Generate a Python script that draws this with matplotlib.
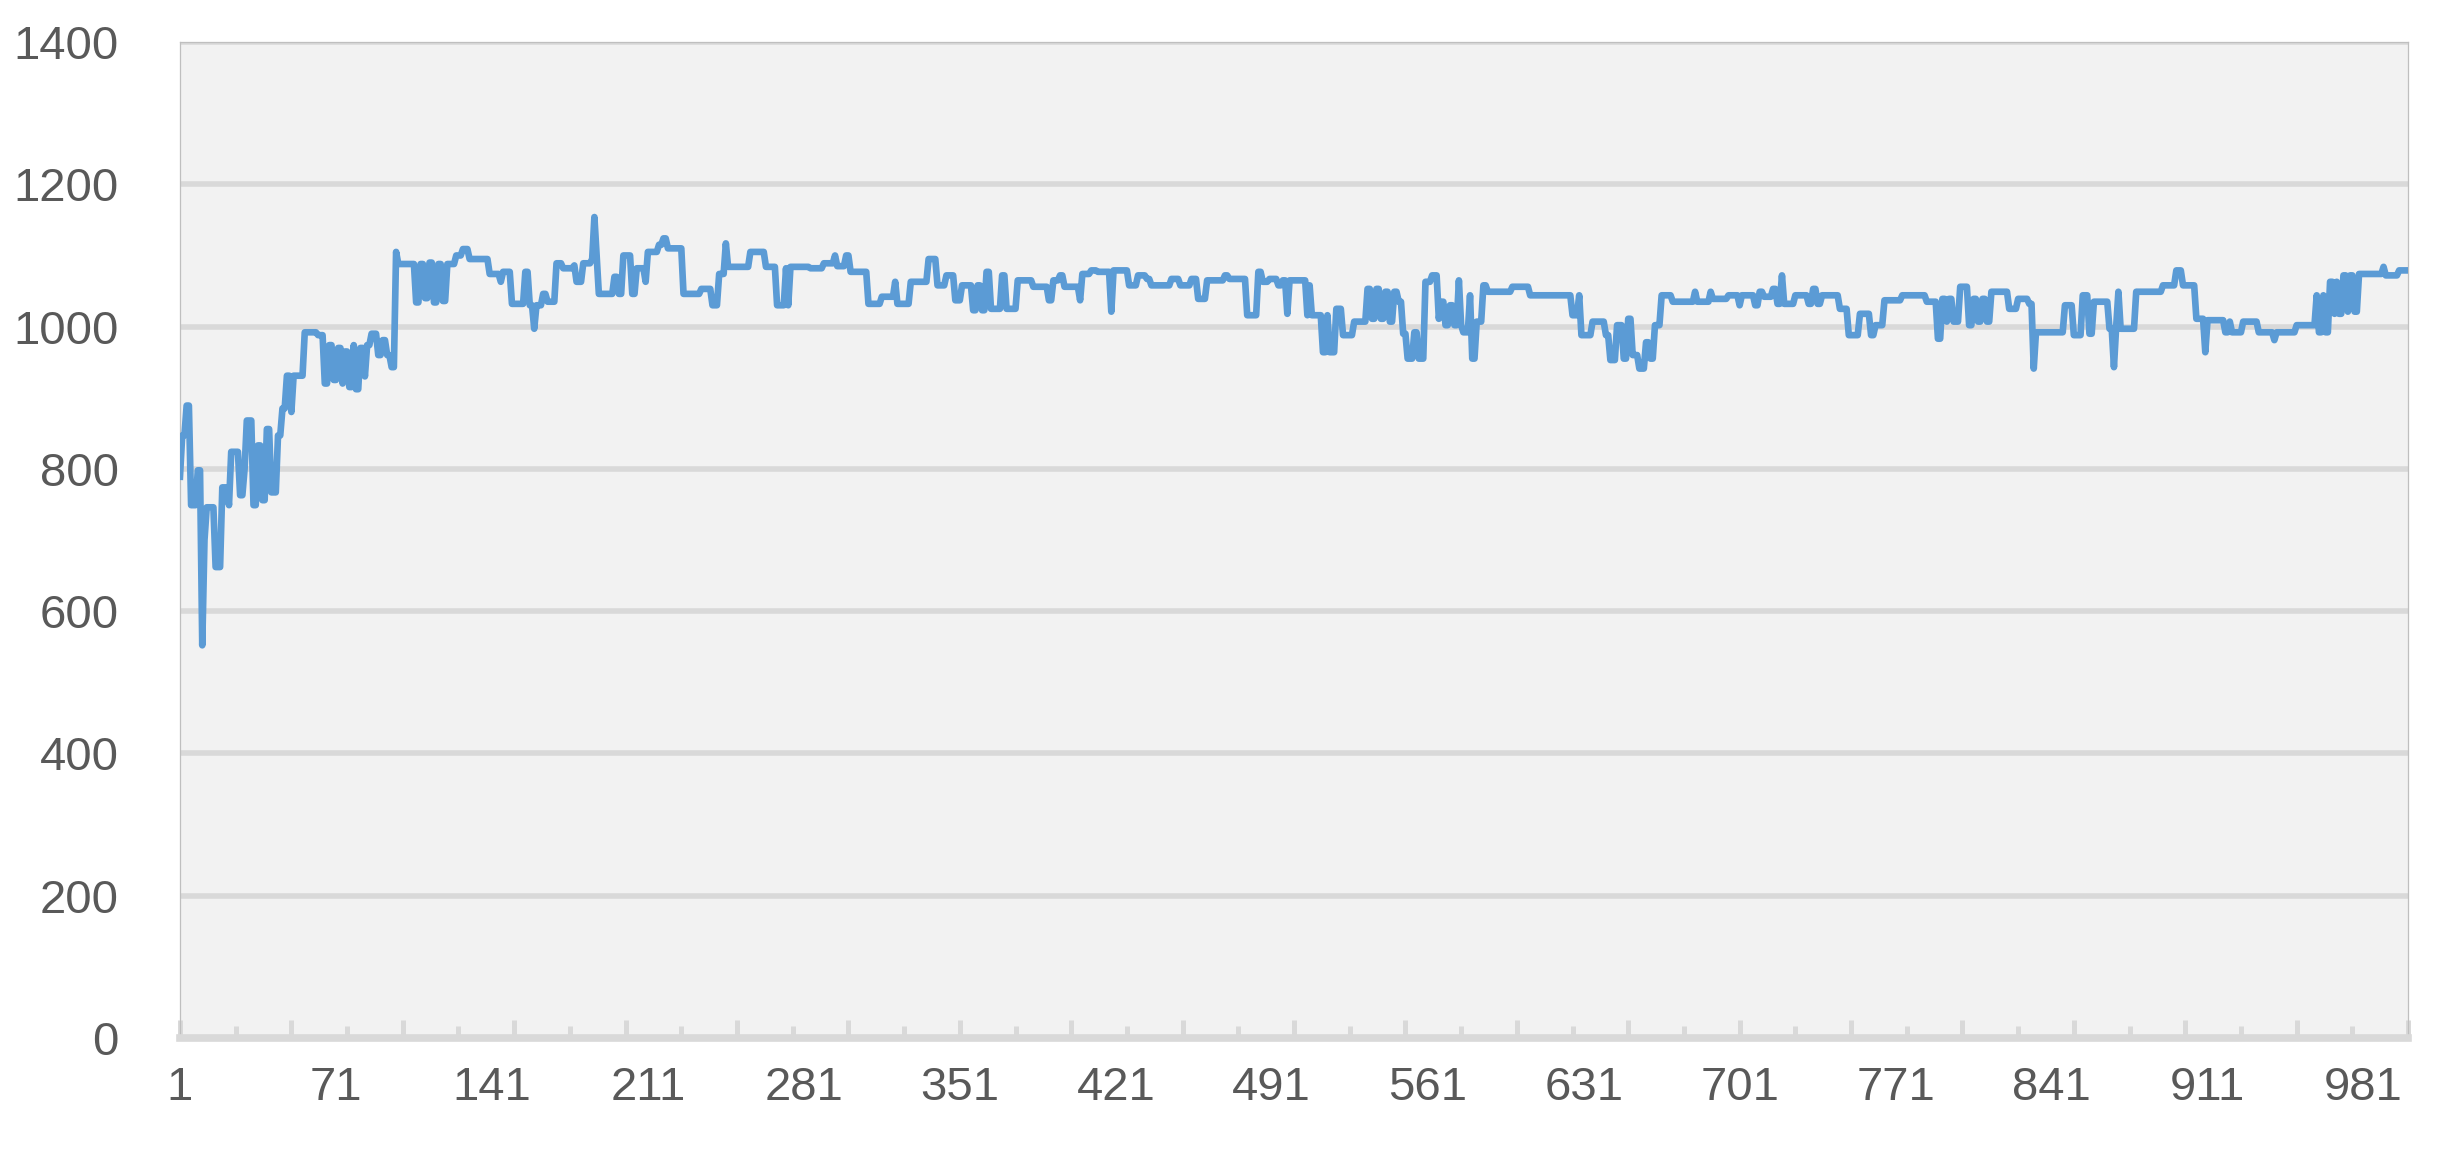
import numpy as np
import matplotlib
matplotlib.use('Agg')
import matplotlib.pyplot as plt

# series: value holds from each start category to the next
seg_start = [1, 2, 4, 6, 9, 11, 12, 13, 17, 20, 23, 24, 28, 30, 31, 34, 36, 38, 40, 42, 45, 47, 49, 51, 52, 57, 63,
             66, 68, 70, 72, 74, 75, 77, 79, 80, 82, 84, 85, 87, 90, 92, 94, 96, 98, 99,
             107, 109, 111, 113, 115, 117, 119, 121, 125, 128, 131, 140, 145, 146,
             150, 156, 158, 160, 161, 164, 166, 170, 173, 178, 179, 182, 186, 187, 188,
             189, 196, 198, 200, 204, 206, 210, 211, 216, 218, 220, 227, 235, 240, 243,
             246, 247, 257, 264, 269, 273, 274, 275, 284, 290, 295, 296, 300, 302, 310,
             316, 322, 323, 329, 337, 341, 345, 349, 352, 357,
             359, 361, 363, 365, 370, 372, 377, 384, 391, 393, 396, 398, 405, 406, 410,
             413, 419, 420, 427, 431, 435, 437, 446, 450, 455, 458, 462, 470, 472, 480,
             485, 487, 490, 494, 496, 498, 499, 507, 508, 509, 514, 516, 517, 520, 523,
             528, 534, 536, 538, 540, 542, 544, 546, 548, 550, 552, 555, 557, 560, 563,
             566, 567, 569, 571, 573, 575, 576, 577, 580, 581, 583, 586, 588, 599, 607,
             626, 629, 630, 635, 641, 643, 646, 649, 651, 653, 656, 659, 661, 663, 666,
             671, 681, 682, 688, 689, 696, 701, 702, 708, 710, 712, 716, 718, 720, 721,
             726, 732, 734, 736, 738, 746, 750, 755, 760, 762, 766, 774,
             785, 790, 792, 794, 795, 797, 800, 804, 806, 808, 810, 812, 814, 822, 826,
             831, 833, 834, 847, 851, 855, 858, 860, 867, 869, 870, 871, 872, 879, 891,
             897, 900, 906, 910, 911, 919, 921, 922, 927, 934, 941, 942, 951, 960, 961,
             963, 964, 966, 968, 969, 970, 972, 974, 975, 977, 979, 990, 991, 997]
seg_value = [789, 847, 889, 749, 798, 552, 700, 746, 662, 774, 749, 824, 763, 800, 868, 749, 833, 756, 856, 767, 847, 885, 931, 880, 931, 992, 988,
             920, 974, 925, 970, 920, 965, 915, 974, 912, 970, 930, 974, 990, 960, 981, 960, 943, 1105, 1088,
             1034, 1088, 1040, 1090, 1034, 1088, 1036, 1088, 1100, 1109, 1095, 1074, 1063, 1077,
             1032, 1077, 1030, 997, 1030, 1046, 1035, 1089, 1082, 1086, 1063, 1089, 1095, 1154, 1100,
             1046, 1070, 1046, 1100, 1046, 1082, 1063, 1105, 1115, 1124, 1110, 1046, 1053, 1030, 1074,
             1117, 1084, 1105, 1084, 1030, 1082, 1030, 1084, 1082, 1089, 1100, 1085, 1100, 1077, 1032,
             1042, 1063, 1032, 1063, 1095, 1058, 1072, 1037, 1058, 1023,
             1058, 1023, 1077, 1025, 1072, 1025, 1065, 1056, 1037, 1065, 1072, 1056, 1037, 1074, 1079,
             1077, 1021, 1079, 1058, 1072, 1067, 1058, 1067, 1058, 1067, 1039, 1065, 1072, 1067, 1016,
             1077, 1063, 1067, 1058, 1065, 1018, 1065, 1016, 1058, 1016, 964, 1016, 964, 1025, 988,
             1007, 1053, 1011, 1053, 1011, 1049, 1007, 1049, 1035, 990, 955, 992, 955, 1063, 1072,
             1011, 1035, 1002, 1030, 1002, 1065, 1002, 992, 1044, 955, 1007, 1058, 1049, 1056, 1044,
             1016, 1044, 988, 1007, 988, 953, 1002, 955, 1011, 960, 941, 978, 955, 1002, 1044,
             1035, 1049, 1035, 1049, 1039, 1044, 1030, 1044, 1030, 1049, 1042, 1053, 1032, 1072, 1032,
             1044, 1032, 1053, 1032, 1044, 1025, 988, 1018, 988, 1002, 1037, 1044,
             1035, 983, 1039, 1007, 1039, 1007, 1056, 1002, 1039, 1007, 1039, 1007, 1049, 1025, 1039,
             1032, 941, 992, 1030, 988, 1044, 990, 1035, 997, 943, 1000, 1049, 997, 1049, 1058,
             1079, 1058, 1011, 964, 1009, 992, 1007, 992, 1007, 992, 981, 992, 1002, 1044, 992,
             1044, 992, 1063, 1018, 1063, 1018, 1072, 1021, 1072, 1021, 1074, 1084, 1072, 1079]
n_points = 1001

y_ticks = [0, 200, 400, 600, 800, 1000, 1200, 1400]
x_labels = [1, 71, 141, 211, 281, 351, 421, 491, 561, 631, 701, 771, 841, 911, 981]

assert len(seg_start) == len(seg_value)
counts = np.diff(seg_start + [n_points + 1])
x = np.arange(1, n_points + 1)
y = np.repeat(seg_value, counts)

plt.rcParams['font.family'] = ['Liberation Sans Narrow', 'Liberation Sans', 'DejaVu Sans']

fig = plt.figure(figsize=(24.42, 11.68), dpi=100)
ax = fig.add_axes([0.0737, 0.1113, 0.9124, 0.8527])
ax.set_facecolor('#F2F2F2')

ax.plot(x, y, color='#5B9BD5', lw=4.8, solid_joinstyle='round', zorder=3)

ax.set_xlim(1, n_points)
ax.set_ylim(0, 1400)
ax.set_yticks(y_ticks)
ax.yaxis.grid(True, color='#D9D9D9', lw=4.0)
ax.set_axisbelow(True)
ax.tick_params(axis='y', length=0, pad=44, labelsize=34, labelcolor='#595959')

# tick marks on the category axis: tall every 50, short in between
ax.set_xticks(np.arange(1, n_points + 1, 50))
ax.set_xticks(np.arange(26, n_points, 50), minor=True)
ax.tick_params(axis='x', which='major', direction='in', length=13, width=3.6,
               color='#D9D9D9', labelbottom=False)
ax.tick_params(axis='x', which='minor', direction='in', length=8.5, width=3.6,
               color='#D9D9D9')

lab = ax.secondary_xaxis('bottom')
lab.set_xticks(x_labels)
lab.set_xticklabels([str(v) for v in x_labels])
lab.tick_params(length=0, pad=20, labelsize=34, labelcolor='#595959')
lab.spines['bottom'].set_visible(False)

for side in ['top', 'left', 'right']:
    ax.spines[side].set_color('#BFBFBF')
    ax.spines[side].set_linewidth(0.9)
ax.spines['bottom'].set_color('#D9D9D9')
ax.spines['bottom'].set_linewidth(5.5)

fig.savefig('out.png', dpi=100, facecolor='white')
